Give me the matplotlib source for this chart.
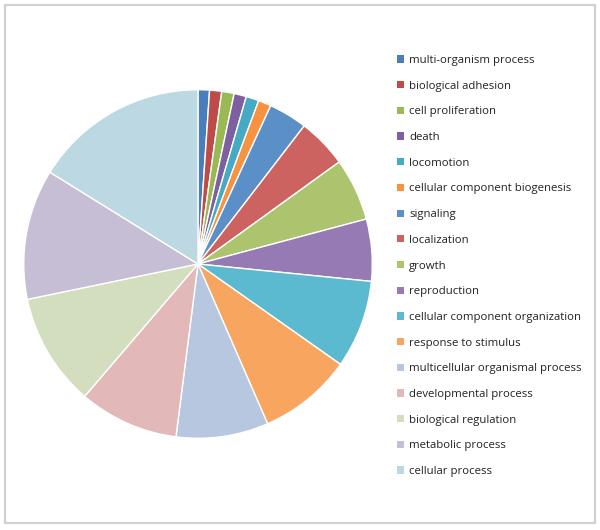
import matplotlib
matplotlib.use("Agg")
import matplotlib.pyplot as plt
from matplotlib.patches import Rectangle, Patch

plt.rcParams['font.family'] = ['Open Sans', 'DejaVu Sans']

categories = [
    "multi-organism process", "biological adhesion", "cell proliferation", "death",
    "locomotion", "cellular component biogenesis", "signaling", "localization",
    "growth", "reproduction", "cellular component organization", "response to stimulus",
    "multicellular organismal process", "developmental process", "biological regulation",
    "metabolic process", "cellular process",
]
values = [1.06, 1.12, 1.15, 1.14, 1.19, 1.19, 3.58, 4.61, 5.8, 5.75, 8.17, 8.69,
          8.56, 9.25, 10.47, 12.08, 16.17]
colors = ["#4A7EBB", "#BE4B48", "#98B954", "#7D60A0", "#46AAC5", "#F69240",
          "#5B8FC7", "#CC6360", "#ADC46F", "#957AB3", "#5BBAD0", "#F8A55F",
          "#B7C7E0", "#E2B8B8", "#D3DEBF", "#C6BED5", "#BBD8E3"]

W, H = 600, 530
fig = plt.figure(figsize=(W / 100, H / 100), dpi=100)

cx, cy, r = 198, 264, 176
ax = fig.add_axes([(cx - r) / W, (H - cy - r) / H, 2 * r / W, 2 * r / H])
ax.pie(values, colors=colors, startangle=90, counterclock=False, radius=1,
       wedgeprops=dict(edgecolor="white", linewidth=1))
ax.set_xlim(-1.01, 1.01)
ax.set_ylim(-1.01, 1.01)
ax.set_aspect("equal")
ax.axis("off")

handles = [Patch(facecolor=c, edgecolor="none") for c in colors]
leg = fig.legend(handles, categories, loc="upper left",
                 bbox_to_anchor=(397 / W, 1 - 55 / H), frameon=False,
                 fontsize=8.2, handlelength=0.6, handleheight=0.6,
                 handletextpad=0.45, labelspacing=1.29, borderaxespad=0,
                 borderpad=0)
for t in leg.get_texts():
    t.set_color("#222222")

fig.patches.append(Rectangle((5 / W, 7 / H), 589.5 / W, 518 / H,
                             transform=fig.transFigure, fill=False,
                             edgecolor="#D0D0D0", linewidth=1.5))

fig.savefig("out.png", dpi=100, facecolor="white")
